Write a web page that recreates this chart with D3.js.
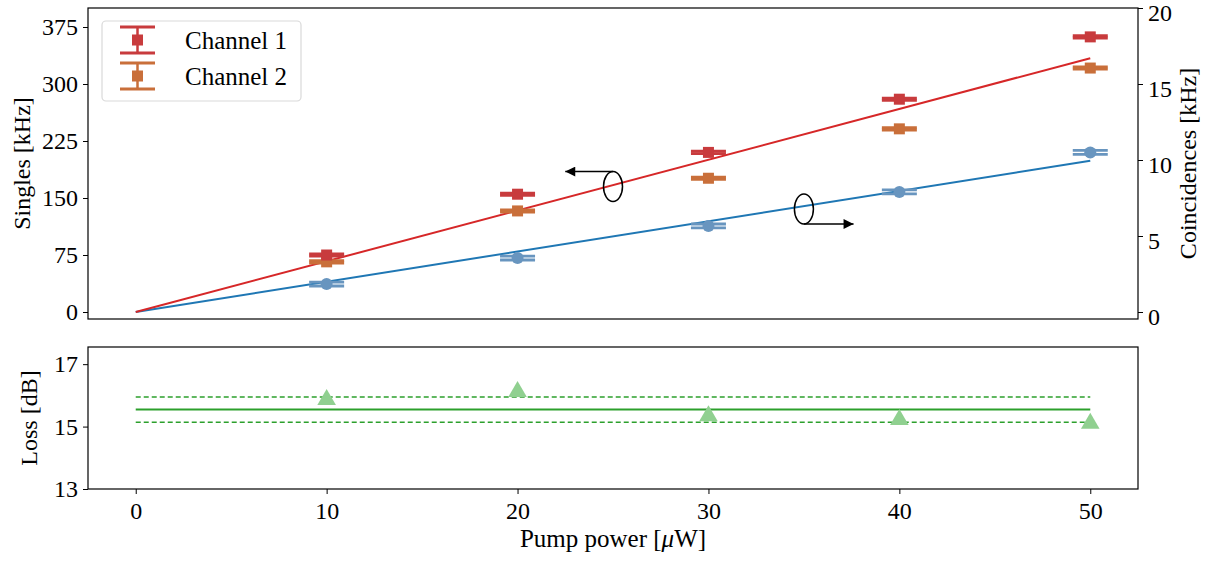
<!DOCTYPE html>
<html>
<head>
<meta charset="utf-8">
<script src="https://cdn.jsdelivr.net/npm/d3@7"></script>
<style>
  body { margin: 0; background: #fff; }
  svg { display: block; }
  text { font-family: "Liberation Serif", "DejaVu Serif", serif; fill: #000; }
</style>
</head>
<body>
<svg id="chart" width="1221" height="561"></svg>
<script>
// ---------------- data ----------------
const pumpPower = [10, 20, 30, 40, 50];
const channel1 = [75, 155, 210, 280, 362];
const channel1Err = [1.5, 1.5, 1.5, 1.5, 1.5];
const channel2 = [66, 133, 176, 241, 321];
const channel2Err = [1.5, 1.5, 1.5, 1.5, 1.5];
const coincidences = [1.84, 3.55, 5.66, 7.9, 10.5];
const coincidencesErr = [0.13, 0.13, 0.13, 0.13, 0.13];
const fitX = [0, 50];
const fitSingles = [0, 334];
const fitCoinc = [0, 9.95];
const loss = [15.86, 16.12, 15.34, 15.22, 15.1];
const lossMeanLine = [15.55, 15.55];
const lossUpperLine = [15.95, 15.95];
const lossLowerLine = [15.14, 15.14];
const xTicks = [0, 10, 20, 30, 40, 50];
const singlesTicks = [0, 75, 150, 225, 300, 375];
const coincTicks = [0, 5, 10, 15, 20];
const lossTicks = [13, 15, 17];
const seriesNames = ["Channel 1", "Channel 2"];
// annotation markers: ellipse centre (x, singles value) and arrow end x
const annoLeft = { x: 25, y: 165, arrowTo: 22.5 };
const annoRight = { x: 35, y: 135.5, arrowTo: 37.6 };

// ---------------- layout ----------------
const svg = d3.select("#chart");
const FS = 24;
const L = 88, R = 1138;
const topT = 8, topB = 319;
const botT = 347, botB = 489;

const x = d3.scaleLinear().domain([-2.5, 52.5]).range([L, R]);
const yL = d3.scaleLinear().domain([-9.2, 400]).range([topB, topT]);
const yR = d3.scaleLinear().domain([-0.46, 20]).range([topB, topT]);
const yB = d3.scaleLinear().domain([13, 17.55]).range([botB, botT]);

const colRed = "#c83b3d", colOrange = "#c96f3a", colBlue = "#6895bf";
const lineRed = "#d62728", lineBlue = "#1f77b4", green = "#2ca02c", lightGreen = "#90d090";

// arrow marker
const defs = svg.append("defs");
defs.append("marker").attr("id", "ah").attr("viewBox", "0 0 10 10")
  .attr("refX", 10).attr("refY", 5).attr("markerWidth", 12).attr("markerHeight", 10)
  .attr("markerUnits", "userSpaceOnUse").attr("orient", "auto")
  .append("path").attr("d", "M0,0 L10,5 L0,10 Z").attr("fill", "#000");

// ---------------- top panel ----------------
const gTop = svg.append("g");

// fit lines
const lineS = d3.line().x((d, i) => x(fitX[i])).y(d => yL(d));
const lineC = d3.line().x((d, i) => x(fitX[i])).y(d => yR(d));
gTop.append("path").datum(fitCoinc).attr("d", lineC).attr("fill", "none")
  .attr("stroke", lineBlue).attr("stroke-width", 2);
gTop.append("path").datum(fitSingles).attr("d", lineS).attr("fill", "none")
  .attr("stroke", lineRed).attr("stroke-width", 2);

// error bar helper
function errorBars(g, xs, ys, errs, scale, color, shape) {
  const capHalf = 17.5;
  const grp = g.append("g");
  xs.forEach((xv, i) => {
    const cx = x(xv), yv = ys[i], e = errs[i];
    const y1 = scale(yv + e), y2 = scale(yv - e);
    grp.append("line").attr("x1", cx).attr("x2", cx).attr("y1", y1).attr("y2", y2)
      .attr("stroke", color).attr("stroke-width", 2.5);
    [y1, y2].forEach(yy => grp.append("line").attr("x1", cx - capHalf).attr("x2", cx + capHalf)
      .attr("y1", yy).attr("y2", yy).attr("stroke", color).attr("stroke-width", 2.8));
    const cy = scale(yv);
    if (shape === "square") {
      grp.append("rect").attr("x", cx - 5.5).attr("y", cy - 5.5).attr("width", 11).attr("height", 11)
        .attr("fill", color);
    } else {
      grp.append("circle").attr("cx", cx).attr("cy", cy).attr("r", 6).attr("fill", color);
    }
  });
}
errorBars(gTop, pumpPower, coincidences, coincidencesErr, yR, colBlue, "circle");
errorBars(gTop, pumpPower, channel2, channel2Err, yL, colOrange, "square");
errorBars(gTop, pumpPower, channel1, channel1Err, yL, colRed, "square");

// annotations
function anno(a, up) {
  const cx = x(a.x), cy = yL(a.y);
  gTop.append("ellipse").attr("cx", cx).attr("cy", cy).attr("rx", 9.5).attr("ry", 15)
    .attr("fill", "none").attr("stroke", "#000").attr("stroke-width", 1.5);
  const ay = up ? cy - 15 : cy + 15;
  gTop.append("line").attr("x1", cx).attr("y1", ay).attr("x2", x(a.arrowTo)).attr("y2", ay)
    .attr("stroke", "#000").attr("stroke-width", 1.5).attr("marker-end", "url(#ah)");
}
anno(annoLeft, true);
anno(annoRight, false);

// axes
const axL = d3.axisLeft(yL).tickValues(singlesTicks).tickSize(5).tickPadding(5);
const axR = d3.axisRight(yR).tickValues(coincTicks).tickSize(5).tickPadding(5);
function styleAxis(g) {
  g.select(".domain").remove();
  g.selectAll(".tick line").attr("stroke", "#000").attr("stroke-width", 1);
  g.selectAll(".tick text").attr("font-size", FS).attr("font-family", "Liberation Serif, serif");
}
gTop.append("g").attr("transform", `translate(${L},0)`).call(axL).call(styleAxis);
gTop.append("g").attr("transform", `translate(${R},0)`).call(axR).call(styleAxis)
  .selectAll(".tick text").attr("dy", "0.5em");
gTop.append("rect").attr("x", L).attr("y", topT).attr("width", R - L).attr("height", topB - topT)
  .attr("fill", "none").attr("stroke", "#000").attr("stroke-width", 1.2);

gTop.append("text").attr("transform", `translate(24,${(topT + topB) / 2}) rotate(-90)`)
  .attr("text-anchor", "middle").attr("dominant-baseline", "middle").attr("font-size", FS)
  .text("Singles [kHz]");
gTop.append("text").attr("transform", `translate(1190,${(topT + topB) / 2}) rotate(-90)`)
  .attr("text-anchor", "middle").attr("dominant-baseline", "middle").attr("font-size", FS)
  .text("Coincidences [kHz]");

// legend
const lg = gTop.append("g");
lg.append("rect").attr("x", 102).attr("y", 21).attr("width", 199).attr("height", 80)
  .attr("rx", 4).attr("fill", "#fff").attr("fill-opacity", 0.85)
  .attr("stroke", "#d9d9d9").attr("stroke-width", 1.2);
[[colRed, 40], [colOrange, 76]].forEach(([c, cy], i) => {
  const cx = 137.5;
  lg.append("line").attr("x1", cx).attr("x2", cx).attr("y1", cy - 13).attr("y2", cy + 13)
    .attr("stroke", c).attr("stroke-width", 2.5);
  [cy - 13, cy + 13].forEach(yy => lg.append("line").attr("x1", cx - 17.5).attr("x2", cx + 17.5)
    .attr("y1", yy).attr("y2", yy).attr("stroke", c).attr("stroke-width", 2.8));
  lg.append("rect").attr("x", cx - 5.5).attr("y", cy - 5.5).attr("width", 11).attr("height", 11).attr("fill", c);
  lg.append("text").attr("x", 185).attr("y", cy + 9).attr("font-size", FS + 1).text(seriesNames[i]);
});

// ---------------- bottom panel ----------------
const gBot = svg.append("g");
const hl = d3.line().x((d, i) => x(fitX[i])).y(d => yB(d));
gBot.append("path").datum(lossUpperLine).attr("d", hl).attr("fill", "none")
  .attr("stroke", green).attr("stroke-width", 1.5).attr("stroke-dasharray", "5,3");
gBot.append("path").datum(lossLowerLine).attr("d", hl).attr("fill", "none")
  .attr("stroke", green).attr("stroke-width", 1.5).attr("stroke-dasharray", "5,3");
gBot.append("path").datum(lossMeanLine).attr("d", hl).attr("fill", "none")
  .attr("stroke", green).attr("stroke-width", 2);
gBot.selectAll("path.tri").data(loss).join("path").attr("class", "tri")
  .attr("d", d3.symbol().type(d3.symbolTriangle).size(150))
  .attr("transform", (d, i) => `translate(${x(pumpPower[i])},${yB(d)})`)
  .attr("fill", lightGreen);

const axB = d3.axisLeft(yB).tickValues(lossTicks).tickFormat(d3.format("d")).tickSize(5).tickPadding(5);
gBot.append("g").attr("transform", `translate(${L},0)`).call(axB).call(styleAxis);
const axX = d3.axisBottom(x).tickValues(xTicks).tickSize(5).tickPadding(8);
gBot.append("g").attr("transform", `translate(0,${botB})`).call(axX).call(styleAxis);
gBot.append("rect").attr("x", L).attr("y", botT).attr("width", R - L).attr("height", botB - botT)
  .attr("fill", "none").attr("stroke", "#000").attr("stroke-width", 1.2);

gBot.append("text").attr("transform", `translate(31,${(botT + botB) / 2}) rotate(-90)`)
  .attr("text-anchor", "middle").attr("dominant-baseline", "middle").attr("font-size", FS)
  .text("Loss [dB]");
const xl = gBot.append("text").attr("x", (L + R) / 2).attr("y", 547).attr("text-anchor", "middle")
  .attr("font-size", FS + 1);
xl.append("tspan").text("Pump power [");
xl.append("tspan").attr("font-style", "italic").text("μ");
xl.append("tspan").text("W]");
</script>
</body>
</html>
